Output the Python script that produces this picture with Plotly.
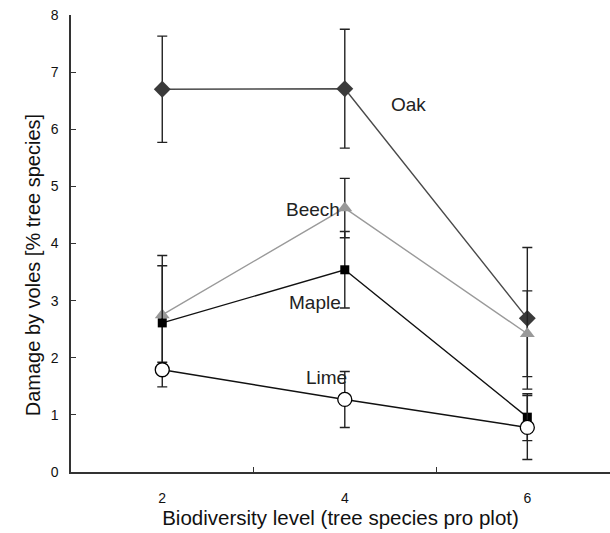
import plotly.graph_objects as go

# Biodiversity level categories (tree species per plot)
levels = ["2", "4", "6"]
xpos = [0, 1, 2]

# Damage by voles [% tree species], mean values and error bar extents
oak = [6.70, 6.71, 2.69]
oak_up = [0.93, 1.04, 1.24]
oak_dn = [0.93, 1.04, 1.24]

beech = [2.75, 4.62, 2.42]
beech_up = [1.04, 0.52, 0.75]
beech_dn = [1.04, 0.52, 0.75]

maple = [2.61, 3.54, 0.96]
maple_up = [1.00, 0.67, 0.41]
maple_dn = [0.69, 0.67, 0.41]

lime = [1.79, 1.27, 0.78]
lime_up = [0.08, 0.49, 0.56]
lime_dn = [0.30, 0.49, 0.56]

series = [
    ("Oak", oak, oak_up, oak_dn, "#4a4a4a", dict(symbol="diamond", size=13, color="#3a3a3a")),
    ("Beech", beech, beech_up, beech_dn, "#9a9a9a", dict(symbol="triangle-up", size=13, color="#999999")),
    ("Maple", maple, maple_up, maple_dn, "#111111", dict(symbol="square", size=9, color="#000000")),
    ("Lime", lime, lime_up, lime_dn, "#111111",
     dict(symbol="circle", size=14, color="white", line=dict(color="#000000", width=1.3))),
]

FONT = "Liberation Sans, Arial"

fig = go.Figure()
for name, vals, up, dn, lc, mk in series:
    fig.add_trace(go.Scatter(
        x=xpos, y=vals, name=name, mode="lines+markers",
        line=dict(color=lc, width=1.4),
        marker=mk,
        error_y=dict(type="data", symmetric=False, array=up, arrayminus=dn,
                     color="#222222", thickness=1.4, width=5),
        showlegend=False,
    ))

# Series labels placed beside their lines (x, y, horizontal anchor)
labels = [("Oak", 1.242, 6.43, "left"), ("Beech", 0.985, 4.59, "right"),
          ("Maple", 0.990, 2.96, "right"), ("Lime", 1.023, 1.65, "right")]
for txt, lx, ly, anc in labels:
    fig.add_annotation(x=lx, y=ly, text=txt, showarrow=False, xanchor=anc,
                       font=dict(family=FONT, size=19, color="#222222"))

# Y-axis title
fig.add_annotation(xref="paper", yref="paper", x=-0.07, y=0.453, text="Damage by voles [% tree species]",
                   textangle=-90, showarrow=False, xanchor="center", yanchor="middle",
                   font=dict(family=FONT, size=20, color="#111111"))

fig.update_layout(
    width=610, height=533,
    margin=dict(l=71, r=0, t=15, b=61),
    plot_bgcolor="white", paper_bgcolor="white",
    font=dict(family=FONT, color="#111111"),
    xaxis=dict(
        range=[-0.5, 2.453], tickvals=xpos, ticktext=levels, ticks="",
        showgrid=False, zeroline=False, showline=True, linecolor="#333333", linewidth=1.5,
        tickfont=dict(size=14), ticklabelstandoff=12,
        minor=dict(tickvals=[0.5, 1.5], ticks="inside", ticklen=5, tickcolor="#333333", tickwidth=1.2),
        title=dict(text="Biodiversity level (tree species pro plot)", font=dict(size=20.5), standoff=5),
    ),
    yaxis=dict(
        range=[0, 8], dtick=1, ticks="inside", ticklen=5, tickcolor="#333333", tickwidth=1.2,
        showgrid=False, zeroline=False, showline=True, linecolor="#333333", linewidth=1.5,
        tickfont=dict(size=14), ticklabelstandoff=8,
    ),
)

fig.write_html("out.html")
